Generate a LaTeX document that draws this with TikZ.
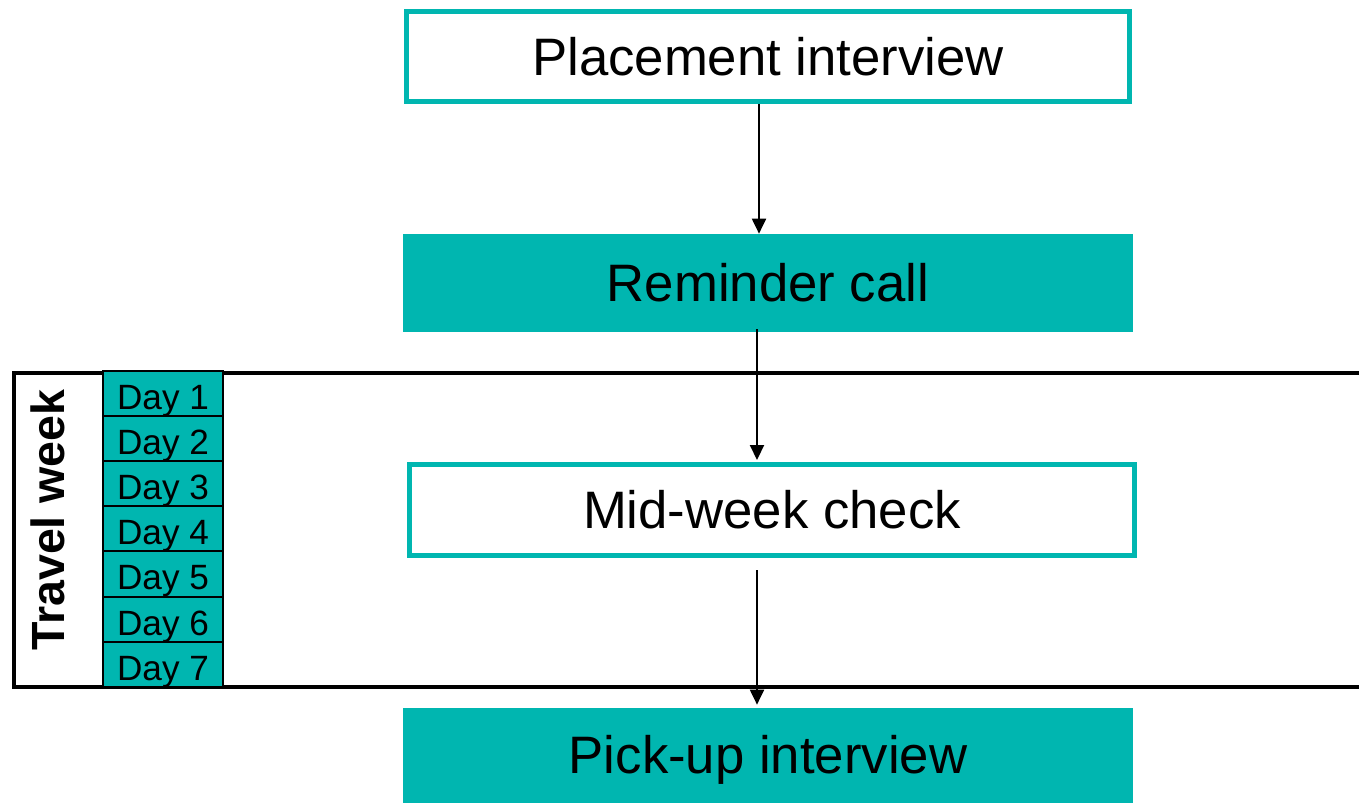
\documentclass[tikz,border=0pt]{standalone}
\usepackage{fontspec}
\setmainfont{Liberation Sans}
\usepackage{xcolor}
\usetikzlibrary{calc, arrows.meta}
\definecolor{boxteal}{RGB}{0,182,176}

\begin{document}
\begin{tikzpicture}[x=0.02cm, y=-0.02cm,
		bigtext/.style={font=\fontsize{30}{36}\selectfont, inner sep=0pt},
		outlinebox/.style={bigtext, draw=boxteal, line width=0.1cm, fill=white},
		solidbox/.style={bigtext, fill=boxteal},
		daycell/.style={draw=black, fill=boxteal, line width=0.04cm, inner sep=0pt,
			minimum width=2.4cm, minimum height=0.902cm, text height=0.64cm, text depth=0pt,
			font=\fontsize{20}{24}\selectfont},
		flow/.style={line width=0.04cm, -{Triangle[width=0.28cm, length=0.3cm]}}]
			\useasboundingbox (0,0) rectangle (1359,802);
			
			% travel week frame, open on the right
			\draw[line width=0.08cm] (1366,373) -- (14,373) -- (14,687) -- (1366,687);
			\node[rotate=90, font=\fontsize{26.5}{30}\selectfont\bfseries, inner sep=0pt] (week) at (48,520) {Travel week};
			
			\foreach \d in {1,...,7}
				\node[daycell] (day\d) at (163,{371 + 45.1*(\d-0.5)}) {Day \d};
			
			% steps
			\node[outlinebox, minimum width=14.46cm, minimum height=1.8cm] (placement) at (768,56.5) {Placement interview};
			\node[solidbox, minimum width=14.6cm, minimum height=1.96cm] (reminder) at (768,283) {Reminder call};
			\node[outlinebox, minimum width=14.5cm, minimum height=1.82cm] (midweek) at (772,510) {Mid-week check};
			\node[solidbox, minimum width=14.6cm, minimum height=2.08cm] (pickup) at (768,760) {Pick-up interview};
			
			\begin{scope}[flow]
				\draw ($ (placement.south) + (-9,0) $) -- ($ (reminder.north) + (-9,0) $);
				\draw ($ (reminder.south) + (-11,-3) $) -- ($ (midweek.north) + (-15,-2) $);
				\draw ($ (midweek.south) + (-15,12) $) -- ($ (pickup.north) + (-11,-3) $);
			\end{scope}
		\end{tikzpicture}
\end{document}
